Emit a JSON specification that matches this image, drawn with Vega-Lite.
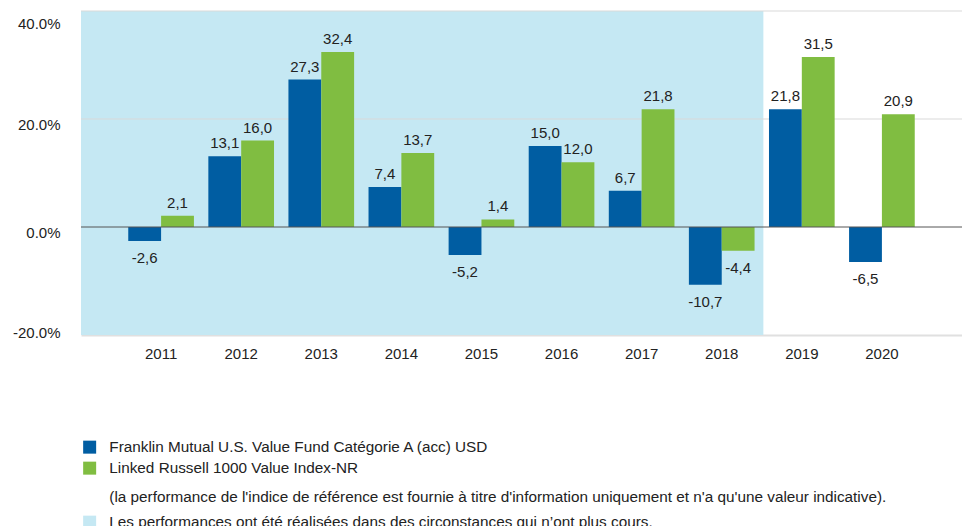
{
  "$schema": "https://vega.github.io/schema/vega-lite/v6.json",
  "width": 881,
  "height": 324,
  "autosize": {"type": "none"},
  "padding": {"left": 81, "top": 11, "right": 0, "bottom": 191},
  "config": {
    "view": {"stroke": null},
    "font": "Liberation Sans",
    "locale": {"number": {"decimal": ",", "thousands": " ", "grouping": [3], "currency": ["", ""], "minus": "-"}}
  },
  "datasets": {
    "returns": [
      {"year": "2011", "series": "Franklin Mutual U.S. Value Fund Catégorie A (acc) USD", "value": -2.6},
      {"year": "2011", "series": "Linked Russell 1000 Value Index-NR", "value": 2.1},
      {"year": "2012", "series": "Franklin Mutual U.S. Value Fund Catégorie A (acc) USD", "value": 13.1},
      {"year": "2012", "series": "Linked Russell 1000 Value Index-NR", "value": 16.0},
      {"year": "2013", "series": "Franklin Mutual U.S. Value Fund Catégorie A (acc) USD", "value": 27.3},
      {"year": "2013", "series": "Linked Russell 1000 Value Index-NR", "value": 32.4},
      {"year": "2014", "series": "Franklin Mutual U.S. Value Fund Catégorie A (acc) USD", "value": 7.4},
      {"year": "2014", "series": "Linked Russell 1000 Value Index-NR", "value": 13.7},
      {"year": "2015", "series": "Franklin Mutual U.S. Value Fund Catégorie A (acc) USD", "value": -5.2},
      {"year": "2015", "series": "Linked Russell 1000 Value Index-NR", "value": 1.4},
      {"year": "2016", "series": "Franklin Mutual U.S. Value Fund Catégorie A (acc) USD", "value": 15.0},
      {"year": "2016", "series": "Linked Russell 1000 Value Index-NR", "value": 12.0},
      {"year": "2017", "series": "Franklin Mutual U.S. Value Fund Catégorie A (acc) USD", "value": 6.7},
      {"year": "2017", "series": "Linked Russell 1000 Value Index-NR", "value": 21.8},
      {"year": "2018", "series": "Franklin Mutual U.S. Value Fund Catégorie A (acc) USD", "value": -10.7},
      {"year": "2018", "series": "Linked Russell 1000 Value Index-NR", "value": -4.4},
      {"year": "2019", "series": "Franklin Mutual U.S. Value Fund Catégorie A (acc) USD", "value": 21.8},
      {"year": "2019", "series": "Linked Russell 1000 Value Index-NR", "value": 31.5},
      {"year": "2020", "series": "Franklin Mutual U.S. Value Fund Catégorie A (acc) USD", "value": -6.5},
      {"year": "2020", "series": "Linked Russell 1000 Value Index-NR", "value": 20.9}
    ],
    "shade": [
      {"start": 2010, "end": 2018.52, "period": "Les performances ont été réalisées dans des circonstances qui n’ont plus cours."}
    ],
    "grid": [{"v": 20}, {"v": 40}],
    "zero": [{"v": 0}]
  },
  "layer": [
    {
      "data": {"name": "shade"},
      "mark": {"type": "rect"},
      "encoding": {
        "x": {"field": "start", "type": "quantitative", "scale": {"domain": [2010, 2021], "nice": false, "zero": false}, "axis": null},
        "x2": {"field": "end"},
        "y": {"datum": -20, "type": "quantitative", "scale": {"domain": [-20, 40], "nice": false}},
        "y2": {"datum": 40},
        "fill": {
          "field": "period",
          "type": "nominal",
          "scale": {
            "domain": ["(la performance de l'indice de référence est fournie à titre d'information uniquement et n'a qu'une valeur indicative).", "Les performances ont été réalisées dans des circonstances qui n’ont plus cours."],
            "range": ["transparent", "#C5E8F3"]
          },
          "legend": {
            "orient": "none", "legendX": 1, "legendY": 478.5, "title": null,
            "symbolType": "square", "symbolSize": 169, "symbolStrokeWidth": 0,
            "labelFontSize": 15.3, "labelOffset": 12, "rowPadding": 9, "labelColor": "#222",
            "labelLimit": 900, "padding": 0, "labelFont": "Liberation Sans"
          }
        }
      }
    },
    {
      "layer": [
        {
          "data": {"name": "grid"},
          "mark": {"type": "rule", "color": "#D9D9D9", "strokeWidth": 1},
          "encoding": {"y": {"field": "v", "type": "quantitative"}}
        },
        {
          "data": {"name": "returns"},
          "mark": {"type": "bar"},
          "encoding": {
            "x": {
              "field": "year", "type": "nominal",
              "scale": {"paddingInner": 0.18, "paddingOuter": 0.59},
              "axis": {
                "title": null, "labelAngle": 0, "ticks": false, "domain": true,
                "domainColor": "#E0E0E0", "domainWidth": 2,
                "labelFontSize": 15, "labelColor": "#222", "labelPadding": 11, "labelFont": "Liberation Sans"
              }
            },
            "xOffset": {
              "field": "series", "type": "nominal",
              "scale": {"domain": ["Franklin Mutual U.S. Value Fund Catégorie A (acc) USD", "Linked Russell 1000 Value Index-NR"], "paddingInner": 0, "paddingOuter": 0}
            },
            "y": {
              "field": "value", "type": "quantitative",
              "axis": {
                "title": null, "values": [-20, 0, 20, 40], "grid": false, "domain": false, "ticks": false,
                "labelExpr": "datum.value + '.0%'", "labelFlush": true, "labelOffset": 5,
                "labelFontSize": 15, "labelColor": "#222", "labelPadding": 21, "labelFont": "Liberation Sans"
              }
            },
            "color": {
              "field": "series", "type": "nominal",
              "scale": {"domain": ["Franklin Mutual U.S. Value Fund Catégorie A (acc) USD", "Linked Russell 1000 Value Index-NR"], "range": ["#005DA2", "#80BD41"]},
              "legend": {
                "orient": "none", "legendX": 1, "legendY": 428.5, "title": null,
                "symbolType": "square", "symbolSize": 169, "symbolStrokeWidth": 0,
                "labelFontSize": 15.3, "labelOffset": 12, "rowPadding": 5, "labelColor": "#222",
                "labelLimit": 900, "padding": 0, "labelFont": "Liberation Sans"
              }
            }
          }
        },
        {
          "data": {"name": "zero"},
          "mark": {"type": "rule", "color": "#555555", "strokeWidth": 1},
          "encoding": {"y": {"field": "v", "type": "quantitative"}}
        },
        {
          "data": {"name": "returns"},
          "transform": [{"filter": "datum.value >= 0"}],
          "mark": {"type": "text", "baseline": "bottom", "dy": -5, "fontSize": 15, "color": "#222", "font": "Liberation Sans"},
          "encoding": {
            "x": {"field": "year", "type": "nominal"},
            "xOffset": {"field": "series", "type": "nominal"},
            "y": {"field": "value", "type": "quantitative"},
            "text": {"field": "value", "type": "quantitative", "format": ".1f"}
          }
        },
        {
          "data": {"name": "returns"},
          "transform": [{"filter": "datum.value < 0"}],
          "mark": {"type": "text", "baseline": "top", "dy": 10, "fontSize": 15, "color": "#222", "font": "Liberation Sans"},
          "encoding": {
            "x": {"field": "year", "type": "nominal"},
            "xOffset": {"field": "series", "type": "nominal"},
            "y": {"field": "value", "type": "quantitative"},
            "text": {"field": "value", "type": "quantitative", "format": ".1f"}
          }
        }
      ]
    }
  ],
  "resolve": {"scale": {"x": "independent"}}
}
